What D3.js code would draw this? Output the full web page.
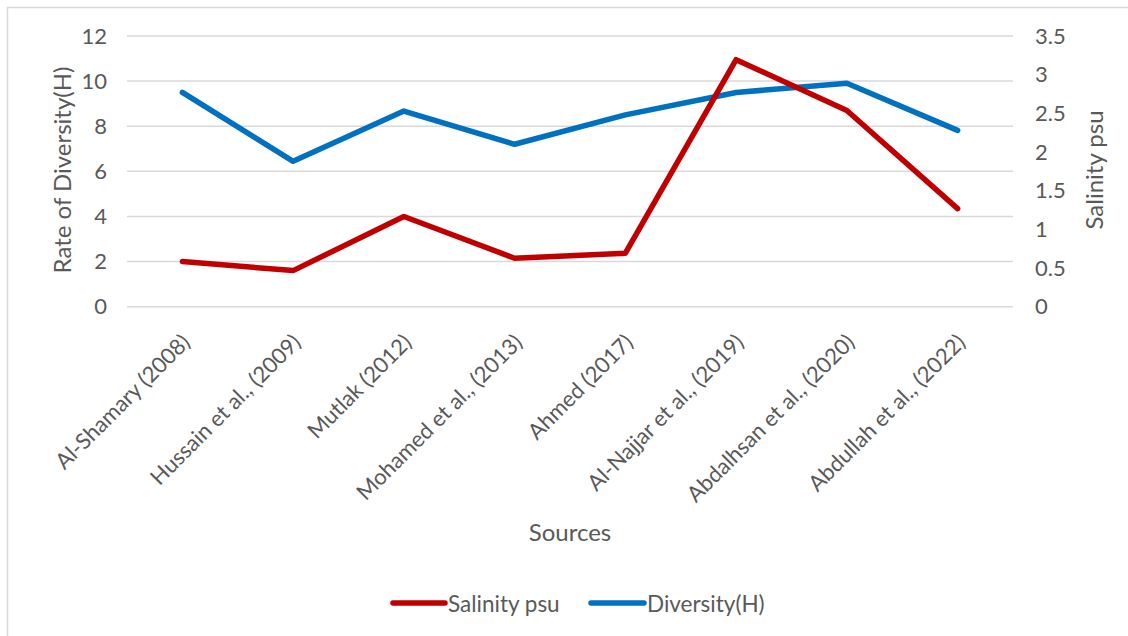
<!DOCTYPE html>
<html><head><meta charset="utf-8">
<script src="https://cdn.jsdelivr.net/npm/d3@7"></script>
<style>body{margin:0;background:#fff;} text{font-family:Lato,"Open Sans",sans-serif;fill:#595959;}</style>
</head><body>
<svg id="c" width="1128" height="636"></svg>
<script>
const categories = ["Al-Shamary (2008)","Hussain et al., (2009)","Mutlak (2012)","Mohamed et al., (2013)","Ahmed (2017)","Al-Najjar et al., (2019)","Abdalhsan et al., (2020)","Abdullah et al., (2022)"];
const salinity = [2.0, 1.6, 4.0, 2.15, 2.37, 10.95, 8.7, 4.35];
const diversity = [2.77, 1.88, 2.53, 2.1, 2.48, 2.77, 2.89, 2.28];
const leftTicks = [0,2,4,6,8,10,12];
const rightTicks = [0,0.5,1,1.5,2,2.5,3,3.5];
const seriesNames = ["Salinity psu","Diversity(H)"];
const colors = ["#c00000","#0070c0"];

const svg = d3.select("#c");
svg.append("rect").attr("x",7.5).attr("y",7.5).attr("width",1140).attr("height",650)
  .attr("fill","#fff").attr("stroke","#d9d9d9").attr("stroke-width",1.5);

const L=127, R=1013, T=36, B=306.7;
const x = d3.scaleBand().domain(categories).range([L,R]);
const yL = d3.scaleLinear().domain([0,12]).range([B,T]);
const yR = d3.scaleLinear().domain([0,3.5]).range([B,T]);

// gridlines
svg.append("g").selectAll("line").data(leftTicks).join("line")
  .attr("x1",L).attr("x2",R).attr("y1",d=>yL(d)).attr("y2",d=>yL(d))
  .attr("stroke","#d9d9d9").attr("stroke-width",1.5);

// left axis
const ga = svg.append("g").attr("transform",`translate(${L},0)`)
  .call(d3.axisLeft(yL).tickValues(leftTicks).tickSize(0).tickPadding(20).tickFormat(d3.format("d")));
ga.select(".domain").remove();
ga.selectAll("text").style("font-size","22px").style("fill","#595959").style("font-family","Lato");

// right axis
const gr = svg.append("g").attr("transform",`translate(${R},0)`)
  .call(d3.axisRight(yR).tickValues(rightTicks).tickSize(0).tickPadding(22).tickFormat(d=>String(d)));
gr.select(".domain").remove();
gr.selectAll("text").style("font-size","22px").style("fill","#595959").style("font-family","Lato");

// x axis labels
const gx = svg.append("g").attr("transform",`translate(0,${B})`)
  .call(d3.axisBottom(x).tickSize(0).tickPadding(0));
gx.select(".domain").remove();
gx.selectAll("text").style("font-size","22px").style("fill","#595959").style("font-family","Lato")
  .attr("text-anchor","end").attr("dy",0).attr("y",0)
  .attr("transform","translate(9,37) rotate(-45)");

// lines
const lineL = d3.line().x((d,i)=>x(categories[i])+x.bandwidth()/2).y(d=>yL(d));
const lineR = d3.line().x((d,i)=>x(categories[i])+x.bandwidth()/2).y(d=>yR(d));
svg.append("path").datum(diversity).attr("d",lineR).attr("fill","none")
  .attr("stroke",colors[1]).attr("stroke-width",5.5).attr("stroke-linejoin","round").attr("stroke-linecap","round");
svg.append("path").datum(salinity).attr("d",lineL).attr("fill","none")
  .attr("stroke",colors[0]).attr("stroke-width",5.5).attr("stroke-linejoin","round").attr("stroke-linecap","round");

// axis titles
svg.append("text").attr("transform","translate(61,170) rotate(-90)").attr("text-anchor","middle")
  .attr("dominant-baseline","central").style("font-size","24px").text("Rate of Diversity(H)");
svg.append("text").attr("transform","translate(1093,170) rotate(-90)").attr("text-anchor","middle")
  .attr("dominant-baseline","central").style("font-size","24px").text("Salinity psu");
svg.append("text").attr("x",570).attr("y",531).attr("text-anchor","middle")
  .attr("dominant-baseline","central").style("font-size","24px").text("Sources");

// legend
const leg = [{x0:393,x1:445,tx:448},{x0:591,x1:644,tx:647}];
seriesNames.forEach((n,i)=>{
  svg.append("line").attr("x1",leg[i].x0).attr("x2",leg[i].x1).attr("y1",603).attr("y2",603)
    .attr("stroke",colors[i]).attr("stroke-width",5.5).attr("stroke-linecap","round");
  svg.append("text").attr("x",leg[i].tx).attr("y",603).attr("dominant-baseline","central")
    .style("font-size","22.5px").text(n);
});
</script>
</body></html>
